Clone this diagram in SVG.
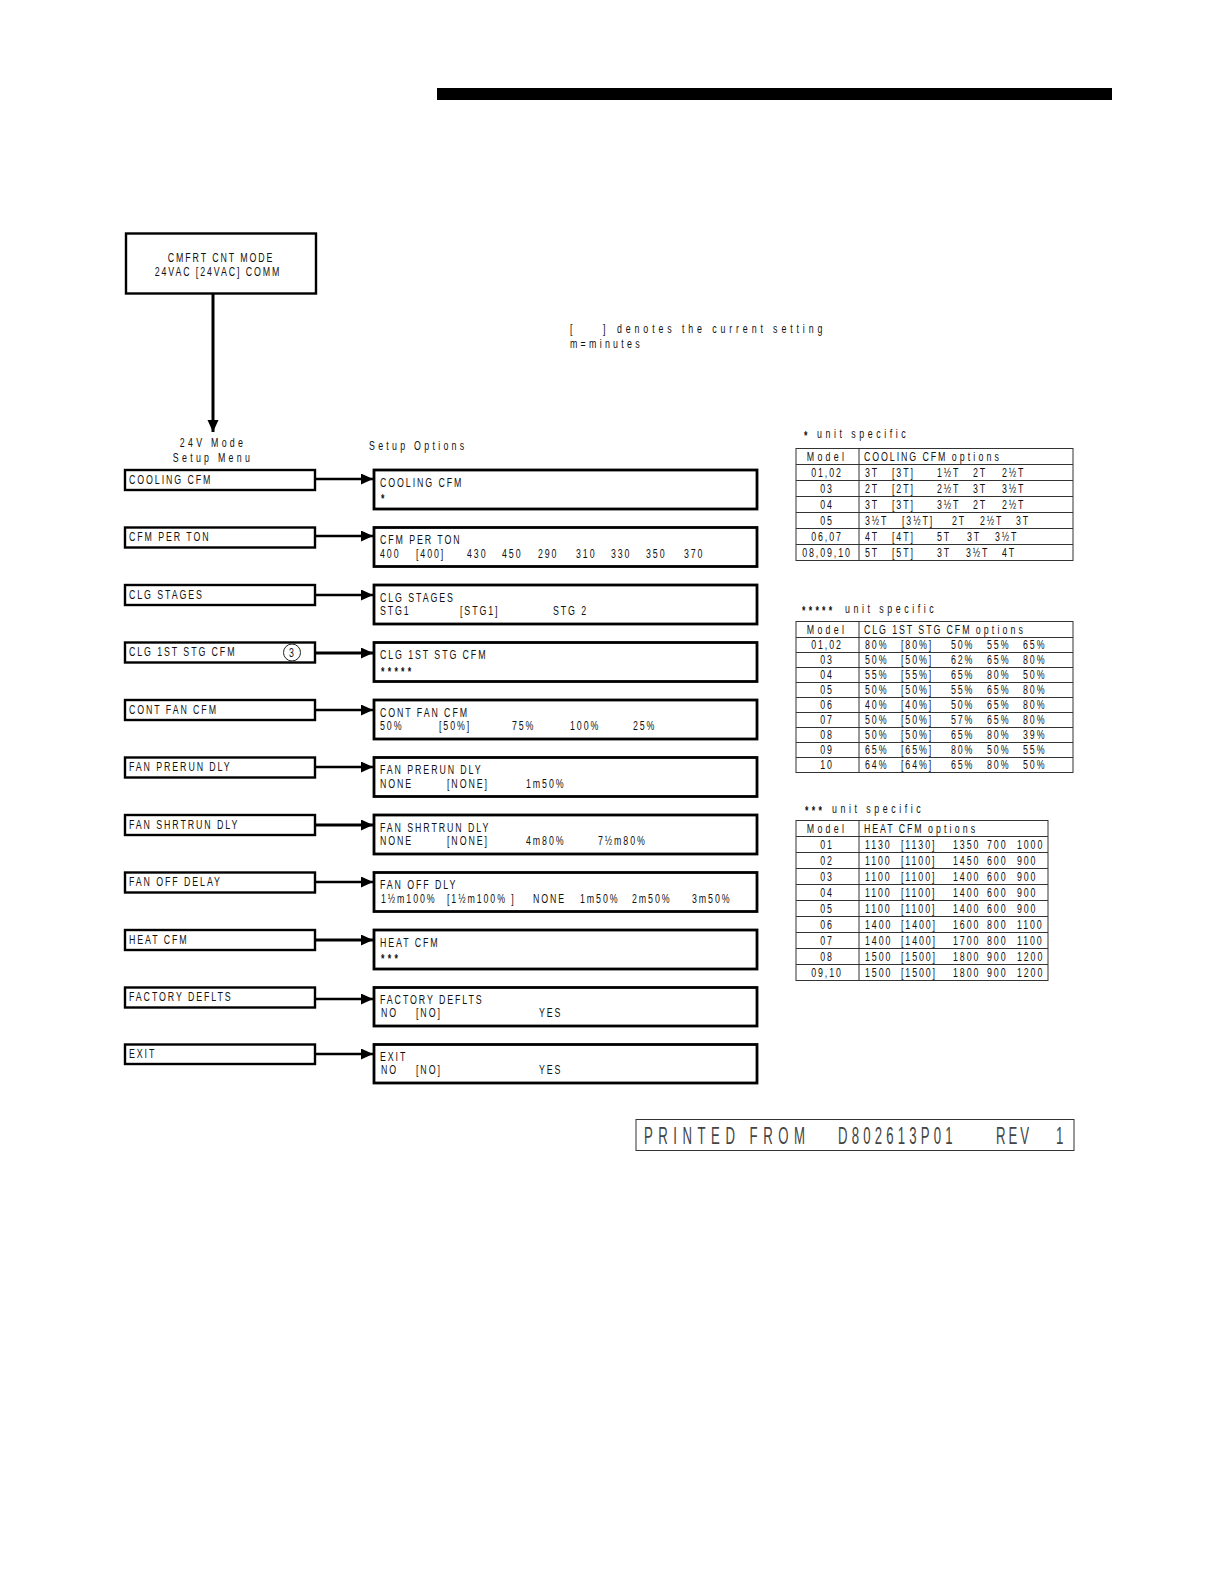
<svg xmlns="http://www.w3.org/2000/svg" width="1224" height="1584" viewBox="0 0 1224 1584">
<style>
text{font-family:"Liberation Sans",Arial,sans-serif;font-size:13px;letter-spacing:2.8px;fill:#111;white-space:pre;transform:scaleX(.68);transform-box:fill-box;transform-origin:0 0}
.c{text-anchor:middle;transform-origin:50% 0}
.w,.w tspan{letter-spacing:4.8px}
tspan.w{letter-spacing:4.6px}
.u{letter-spacing:5.2px}
.d{letter-spacing:5.7px}
.a{font-weight:bold;letter-spacing:4.8px}
.big{font-size:24px;letter-spacing:10px;fill:#444;transform:scaleX(.55)}
.big.n{letter-spacing:7.6px}
.big.r{letter-spacing:5.5px}
.box{fill:#fff;stroke:#000;stroke-width:2.4}
.obox{fill:#fff;stroke:#000;stroke-width:2.8}
.tb{fill:none;stroke:#333;stroke-width:1}
.conn{fill:none;stroke:#000;stroke-width:2.4;marker-end:url(#ah)}
.hv{stroke-width:3}
</style>
<defs><marker id="ah" markerUnits="userSpaceOnUse" markerWidth="13" markerHeight="12" refX="12" refY="5.500" orient="auto"><path d="M0 0L12 5.500L0 11z" fill="#000"/></marker></defs>
<rect fill="#fff" width="1224" height="1584"/>
<rect id="top-bar" x="437" y="88" width="675" height="12" fill="#000"/>
<g id="connectors">
<path class="conn hv" d="M213 294V432"/>
<path class="conn" d="M315 479H373"/>
<path class="conn" d="M315 536H373"/>
<path class="conn" d="M315 595H373"/>
<path class="conn hv" d="M315 653H373"/>
<path class="conn" d="M315 710H373"/>
<path class="conn" d="M315 767H373"/>
<path class="conn hv" d="M315 825H373"/>
<path class="conn" d="M315 882H373"/>
<path class="conn hv" d="M315 940H373"/>
<path class="conn" d="M315 999H373"/>
<path class="conn" d="M315 1054H373"/>
</g>
<g id="start"><rect class="box" x="126" y="233.500" width="190" height="60"/><text class="c" x="221" y="262">CMFRT CNT MODE</text><text class="c" x="218" y="276">24VAC [24VAC] COMM</text></g>
<text class="c w" x="213" y="447">24V Mode</text><text class="c w" x="213" y="462">Setup Menu</text>
<text class="w" x="369" y="450">Setup Options</text>
<g id="menu-cooling"><rect class="box" x="125" y="470" width="190" height="20"/><text x="129" y="484">COOLING CFM</text></g>
<g id="menu-cfm-per-ton"><rect class="box" x="125" y="527.500" width="190" height="20"/><text x="129" y="541">CFM PER TON</text></g>
<g id="menu-clg-stages"><rect class="box" x="125" y="585" width="190" height="20"/><text x="129" y="599">CLG STAGES</text></g>
<g id="menu-clg-1st"><rect class="box" x="125" y="642.500" width="190" height="20"/><text x="129" y="656">CLG 1ST STG CFM</text><circle cx="292" cy="652.500" r="8.500" fill="none" stroke="#222" stroke-width="1"/><text class="c" x="292.500" y="657">3</text></g>
<g id="menu-cont-fan"><rect class="box" x="125" y="700" width="190" height="20"/><text x="129" y="714">CONT FAN CFM</text></g>
<g id="menu-prerun"><rect class="box" x="125" y="757.500" width="190" height="20"/><text x="129" y="771">FAN PRERUN DLY</text></g>
<g id="menu-shrtrun"><rect class="box" x="125" y="815" width="190" height="20"/><text x="129" y="829">FAN SHRTRUN DLY</text></g>
<g id="menu-off-delay"><rect class="box" x="125" y="872.500" width="190" height="20"/><text x="129" y="886">FAN OFF DELAY</text></g>
<g id="menu-heat"><rect class="box" x="125" y="930" width="190" height="20"/><text x="129" y="944">HEAT CFM</text></g>
<g id="menu-factory"><rect class="box" x="125" y="987.500" width="190" height="20"/><text x="129" y="1001">FACTORY DEFLTS</text></g>
<g id="menu-exit"><rect class="box" x="125" y="1044.500" width="190" height="19.500"/><text x="129" y="1058">EXIT</text></g>

<g id="opt-cooling"><rect class="obox" x="374" y="470" width="383" height="39"/><text x="380" y="487">COOLING CFM</text><text class="a" x="381" y="503">*</text></g>
<g id="opt-cfm-per-ton"><rect class="obox" x="374" y="527.500" width="383" height="39"/><text x="380" y="544.500">CFM PER TON</text><text x="380" y="558">400</text><text x="416" y="558">[400]</text><text x="467" y="558">430</text><text x="502" y="558">450</text><text x="538" y="558">290</text><text x="576" y="558">310</text><text x="611" y="558">330</text><text x="646" y="558">350</text><text x="684" y="558">370</text></g>
<g id="opt-clg-stages"><rect class="obox" x="374" y="585" width="383" height="39"/><text x="380" y="602">CLG STAGES</text><text x="380" y="615">STG1</text><text x="460" y="615">[STG1]</text><text x="553" y="615">STG 2</text></g>
<g id="opt-clg-1st"><rect class="obox" x="374" y="642.500" width="383" height="39"/><text x="380" y="659.500">CLG 1ST STG CFM</text><text class="a" x="381" y="676">*****</text></g>
<g id="opt-cont-fan"><rect class="obox" x="374" y="700" width="383" height="39"/><text x="380" y="717">CONT FAN CFM</text><text x="380" y="730">50%</text><text x="439" y="730">[50%]</text><text x="512" y="730">75%</text><text x="570" y="730">100%</text><text x="633" y="730">25%</text></g>
<g id="opt-prerun"><rect class="obox" x="374" y="757.500" width="383" height="39"/><text x="380" y="774.500">FAN PRERUN DLY</text><text x="380" y="788">NONE</text><text x="447" y="788">[NONE]</text><text x="526" y="788">1m50%</text></g>
<g id="opt-shrtrun"><rect class="obox" x="374" y="815" width="383" height="39"/><text x="380" y="832">FAN SHRTRUN DLY</text><text x="380" y="845">NONE</text><text x="447" y="845">[NONE]</text><text x="526" y="845">4m80%</text><text x="598" y="845">7½m80%</text></g>
<g id="opt-off-delay"><rect class="obox" x="374" y="872.500" width="383" height="39"/><text x="380" y="889.500">FAN OFF DLY</text><text x="381" y="903">1½m100%</text><text x="447" y="903">[1½m100% ]</text><text x="533" y="903">NONE</text><text x="580" y="903">1m50%</text><text x="632" y="903">2m50%</text><text x="692" y="903">3m50%</text></g>
<g id="opt-heat"><rect class="obox" x="374" y="930" width="383" height="39"/><text x="380" y="947">HEAT CFM</text><text class="a" x="381" y="963">***</text></g>
<g id="opt-factory"><rect class="obox" x="374" y="987.500" width="383" height="38.500"/><text x="380" y="1004.500">FACTORY DEFLTS</text><text x="381" y="1017.500">NO</text><text x="416" y="1017.500">[NO]</text><text x="539" y="1017.500">YES</text></g>
<g id="opt-exit"><rect class="obox" x="374" y="1044.500" width="383" height="38.500"/><text x="380" y="1061">EXIT</text><text x="381" y="1074">NO</text><text x="416" y="1074">[NO]</text><text x="539" y="1074">YES</text></g>

<g id="note"><text x="570" y="333">[</text><text x="603" y="333">]</text><text class="d" x="617" y="333">denotes the current setting</text><text class="w" x="570" y="348">m=minutes</text></g>

<g id="table-cooling">
<text class="a" x="804" y="440">*</text><text class="u" x="817" y="438">unit specific</text>
<rect class="tb" x="796" y="448.500" width="277" height="112"/>
<path class="tb" d="M859 448.500V560.500M796 464.500H1073M796 480.500H1073M796 496.500H1073M796 512.500H1073M796 528.500H1073M796 544.500H1073"/>
<text class="c w" x="827" y="461">Model</text><text x="864" y="461">COOLING CFM <tspan class="w">options</tspan></text>
<text class="c" x="827" y="477">01,02</text><text x="865" y="477">3T</text><text x="892" y="477">[3T]</text><text x="937" y="477">1½T</text><text x="973" y="477">2T</text><text x="1002" y="477">2½T</text>
<text class="c" x="827" y="493">03</text><text x="865" y="493">2T</text><text x="892" y="493">[2T]</text><text x="937" y="493">2½T</text><text x="973" y="493">3T</text><text x="1002" y="493">3½T</text>
<text class="c" x="827" y="509">04</text><text x="865" y="509">3T</text><text x="892" y="509">[3T]</text><text x="937" y="509">3½T</text><text x="973" y="509">2T</text><text x="1002" y="509">2½T</text>
<text class="c" x="827" y="525">05</text><text x="865" y="525">3½T</text><text x="902" y="525">[3½T]</text><text x="952" y="525">2T</text><text x="980" y="525">2½T</text><text x="1016" y="525">3T</text>
<text class="c" x="827" y="541">06,07</text><text x="865" y="541">4T</text><text x="892" y="541">[4T]</text><text x="937" y="541">5T</text><text x="967" y="541">3T</text><text x="995" y="541">3½T</text>
<text class="c" x="827" y="557">08,09,10</text><text x="865" y="557">5T</text><text x="892" y="557">[5T]</text><text x="937" y="557">3T</text><text x="966" y="557">3½T</text><text x="1002" y="557">4T</text>
</g>

<g id="table-clg-1st">
<text class="a" x="802" y="615">*****</text><text class="u" x="845" y="613">unit specific</text>
<rect class="tb" x="796" y="621.500" width="277" height="151"/>
<path class="tb" d="M859 621.500V772.500M796 637.500H1073M796 652.500H1073M796 667.500H1073M796 682.500H1073M796 697.500H1073M796 712.500H1073M796 727.500H1073M796 742.500H1073M796 757.500H1073"/>
<text class="c w" x="827" y="634">Model</text><text x="864" y="634">CLG 1ST STG CFM <tspan class="w">options</tspan></text>
<text class="c" x="827" y="649">01,02</text><text x="865" y="649">80%</text><text x="901" y="649">[80%]</text><text x="951" y="649">50%</text><text x="987" y="649">55%</text><text x="1023" y="649">65%</text>
<text class="c" x="827" y="664">03</text><text x="865" y="664">50%</text><text x="901" y="664">[50%]</text><text x="951" y="664">62%</text><text x="987" y="664">65%</text><text x="1023" y="664">80%</text>
<text class="c" x="827" y="679">04</text><text x="865" y="679">55%</text><text x="901" y="679">[55%]</text><text x="951" y="679">65%</text><text x="987" y="679">80%</text><text x="1023" y="679">50%</text>
<text class="c" x="827" y="694">05</text><text x="865" y="694">50%</text><text x="901" y="694">[50%]</text><text x="951" y="694">55%</text><text x="987" y="694">65%</text><text x="1023" y="694">80%</text>
<text class="c" x="827" y="709">06</text><text x="865" y="709">40%</text><text x="901" y="709">[40%]</text><text x="951" y="709">50%</text><text x="987" y="709">65%</text><text x="1023" y="709">80%</text>
<text class="c" x="827" y="724">07</text><text x="865" y="724">50%</text><text x="901" y="724">[50%]</text><text x="951" y="724">57%</text><text x="987" y="724">65%</text><text x="1023" y="724">80%</text>
<text class="c" x="827" y="739">08</text><text x="865" y="739">50%</text><text x="901" y="739">[50%]</text><text x="951" y="739">65%</text><text x="987" y="739">80%</text><text x="1023" y="739">39%</text>
<text class="c" x="827" y="754">09</text><text x="865" y="754">65%</text><text x="901" y="754">[65%]</text><text x="951" y="754">80%</text><text x="987" y="754">50%</text><text x="1023" y="754">55%</text>
<text class="c" x="827" y="769">10</text><text x="865" y="769">64%</text><text x="901" y="769">[64%]</text><text x="951" y="769">65%</text><text x="987" y="769">80%</text><text x="1023" y="769">50%</text>
</g>

<g id="table-heat">
<text class="a" x="805" y="815">***</text><text class="u" x="832" y="813">unit specific</text>
<rect class="tb" x="796" y="820.500" width="252" height="160"/>
<path class="tb" d="M859 820.500V980.500M796 836.500H1048M796 852.500H1048M796 868.500H1048M796 884.500H1048M796 900.500H1048M796 916.500H1048M796 932.500H1048M796 948.500H1048M796 964.500H1048"/>
<text class="c w" x="827" y="833">Model</text><text x="864" y="833">HEAT CFM <tspan class="w">options</tspan></text>
<text class="c" x="827" y="849">01</text><text x="865" y="849">1130</text><text x="901" y="849">[1130]</text><text x="953" y="849">1350</text><text x="987" y="849">700</text><text x="1017" y="849">1000</text>
<text class="c" x="827" y="865">02</text><text x="865" y="865">1100</text><text x="901" y="865">[1100]</text><text x="953" y="865">1450</text><text x="987" y="865">600</text><text x="1017" y="865">900</text>
<text class="c" x="827" y="881">03</text><text x="865" y="881">1100</text><text x="901" y="881">[1100]</text><text x="953" y="881">1400</text><text x="987" y="881">600</text><text x="1017" y="881">900</text>
<text class="c" x="827" y="897">04</text><text x="865" y="897">1100</text><text x="901" y="897">[1100]</text><text x="953" y="897">1400</text><text x="987" y="897">600</text><text x="1017" y="897">900</text>
<text class="c" x="827" y="913">05</text><text x="865" y="913">1100</text><text x="901" y="913">[1100]</text><text x="953" y="913">1400</text><text x="987" y="913">600</text><text x="1017" y="913">900</text>
<text class="c" x="827" y="929">06</text><text x="865" y="929">1400</text><text x="901" y="929">[1400]</text><text x="953" y="929">1600</text><text x="987" y="929">800</text><text x="1017" y="929">1100</text>
<text class="c" x="827" y="945">07</text><text x="865" y="945">1400</text><text x="901" y="945">[1400]</text><text x="953" y="945">1700</text><text x="987" y="945">800</text><text x="1017" y="945">1100</text>
<text class="c" x="827" y="961">08</text><text x="865" y="961">1500</text><text x="901" y="961">[1500]</text><text x="953" y="961">1800</text><text x="987" y="961">900</text><text x="1017" y="961">1200</text>
<text class="c" x="827" y="977">09,10</text><text x="865" y="977">1500</text><text x="901" y="977">[1500]</text><text x="953" y="977">1800</text><text x="987" y="977">900</text><text x="1017" y="977">1200</text>
</g>

<g id="printed-from"><rect x="636" y="1119.500" width="438" height="31" fill="none" stroke="#333" stroke-width="1"/><text class="big" x="644" y="1144">PRINTED FROM</text><text class="big n" x="838" y="1144">D802613P01</text><text class="big r" x="996" y="1144">REV</text><text class="big" x="1056" y="1144">1</text></g>
</svg>
